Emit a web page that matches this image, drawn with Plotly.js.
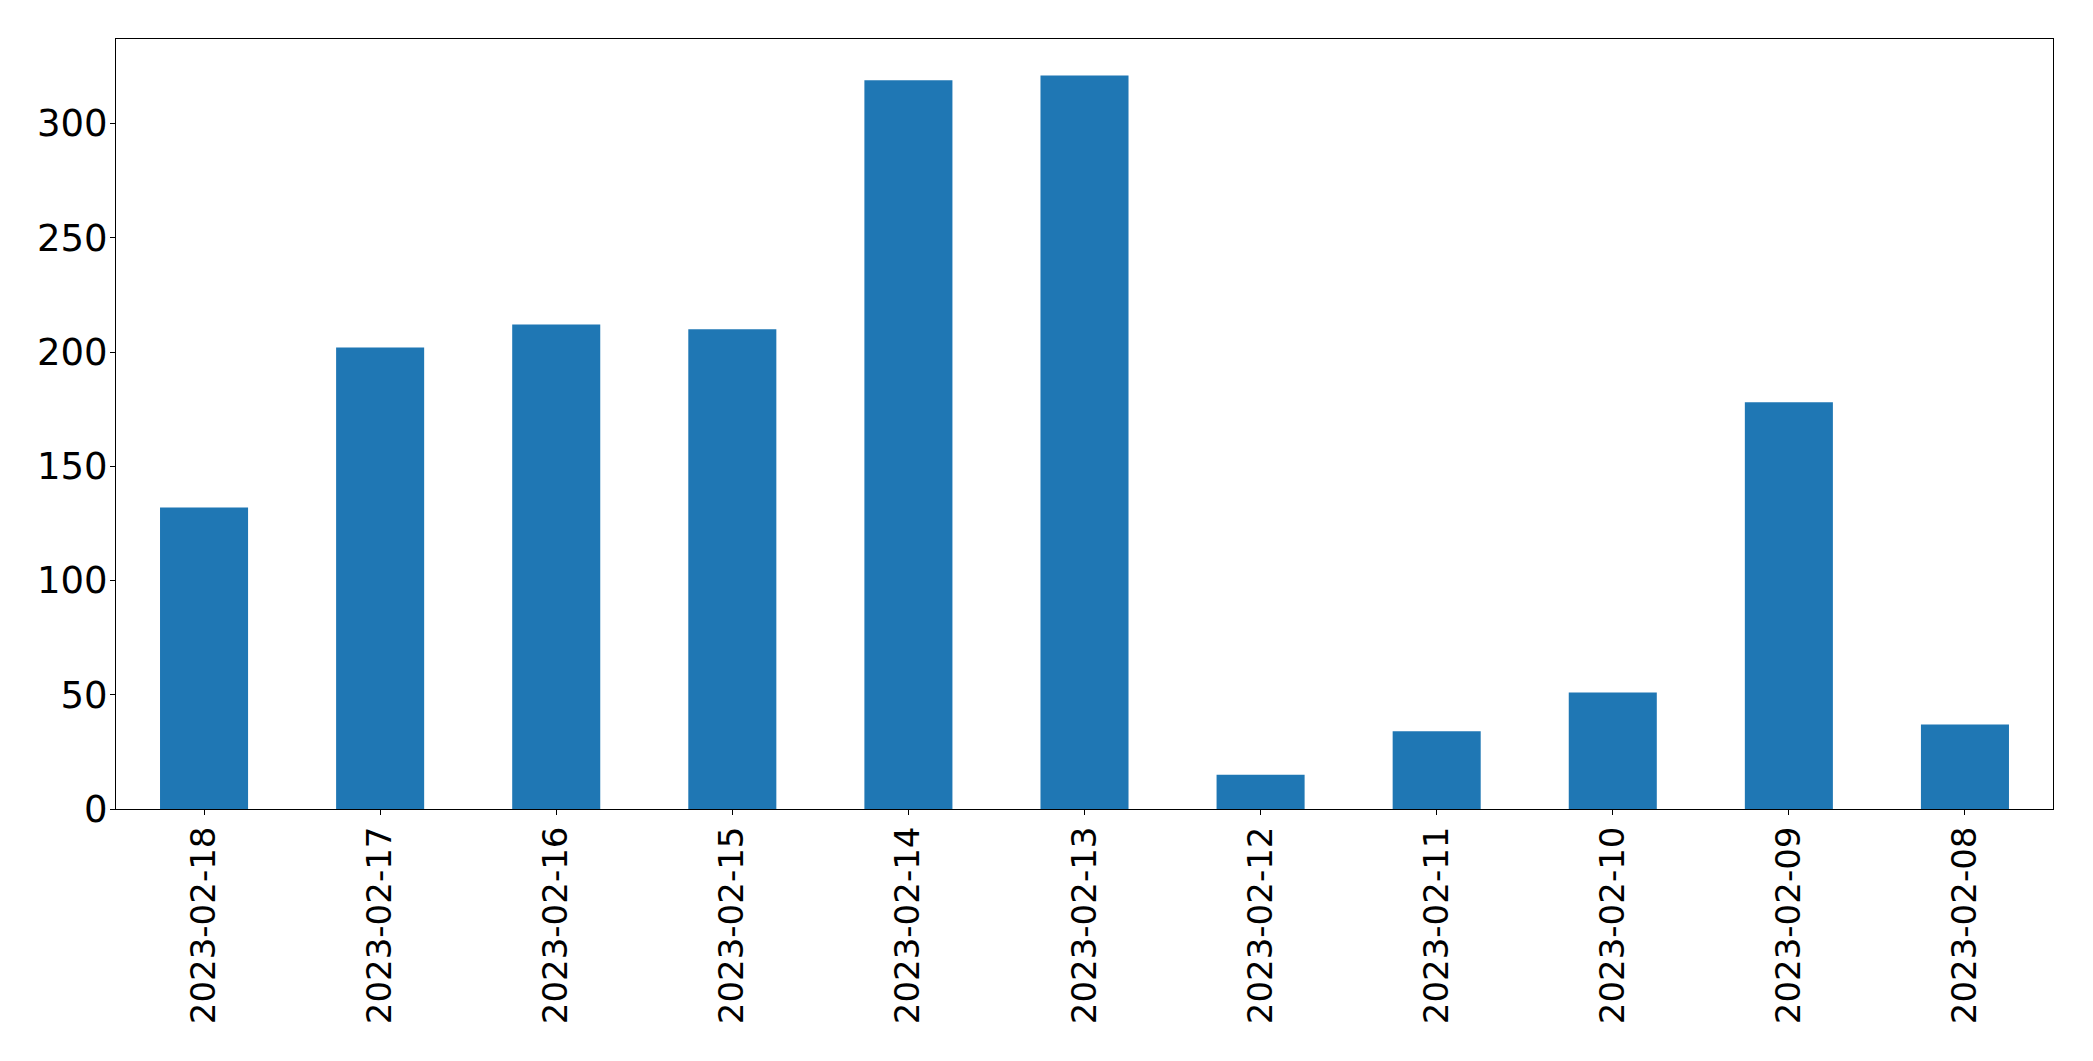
<!DOCTYPE html>
<html>
<head>
<meta charset="utf-8">
<script src="https://cdn.plot.ly/plotly-3.0.1.min.js"></script>
<style>
html, body { margin: 0; padding: 0; background: #ffffff; }
#chart { width: 2093px; height: 1061px; }
</style>
</head>
<body>
<div id="chart"></div>
<script>
const dates = ["2023-02-18", "2023-02-17", "2023-02-16", "2023-02-15", "2023-02-14", "2023-02-13", "2023-02-12", "2023-02-11", "2023-02-10", "2023-02-09", "2023-02-08"];
const counts = [132, 202, 212, 210, 319, 321, 15, 34, 51, 178, 37];
const yTicks = [0, 50, 100, 150, 200, 250, 300];

const trace = {
  type: "bar",
  x: dates,
  y: counts,
  width: 0.5,
  marker: { color: "#1f77b4", line: { width: 0 } },
  hoverinfo: "x+y"
};

const layout = {
  width: 2093,
  height: 1061,
  margin: { l: 116, r: 40, t: 39, b: 252, pad: 0 },
  paper_bgcolor: "#ffffff",
  plot_bgcolor: "#ffffff",
  showlegend: false,
  bargap: 0.5,
  xaxis: {
    type: "category",
    range: [-0.5, dates.length - 0.5],
    tickangle: -90,
    tickfont: { family: "DejaVu Sans, sans-serif", size: 34, color: "#000000" },
    ticks: "outside",
    ticklen: 5,
    tickwidth: 1,
    tickcolor: "#000000",
    ticklabelstandoff: -2,
    showline: true,
    linecolor: "#000000",
    linewidth: 1,
    mirror: true,
    showgrid: false,
    zeroline: false
  },
  yaxis: {
    range: [0, 337],
    tickmode: "array",
    tickvals: yTicks,
    ticktext: yTicks.map(String),
    tickfont: { family: "DejaVu Sans, sans-serif", size: 37, color: "#000000" },
    ticks: "outside",
    ticklen: 5,
    tickwidth: 1,
    tickcolor: "#000000",
    ticklabelstandoff: -5,
    showline: true,
    linecolor: "#000000",
    linewidth: 1,
    mirror: true,
    showgrid: false,
    zeroline: false
  }
};

Plotly.newPlot("chart", [trace], layout, { displayModeBar: false, staticPlot: true });
</script>
</body>
</html>
